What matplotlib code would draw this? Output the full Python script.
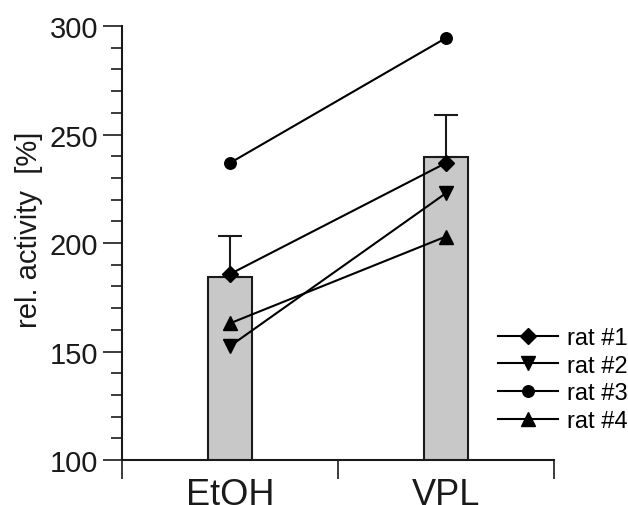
import matplotlib
matplotlib.use("Agg")
import matplotlib.pyplot as plt
from matplotlib.lines import Line2D
from matplotlib.ticker import MultipleLocator

plt.rcParams['font.family'] = ['Liberation Sans', 'DejaVu Sans']

categories = ["EtOH", "VPL"]
bar_means = [184.5, 239.5]
bar_err_upper = [18.7, 19.5]

rat_labels = ["rat #1", "rat #2", "rat #3", "rat #4"]
rat1 = [185.7, 236.9]
rat2 = [152.5, 223.0]
rat3 = [236.9, 294.5]
rat4 = [163.0, 203.0]
rat_markers = ["D", "v", "o", "^"]
rat_msizes = [8, 9.5, 8.3, 9.5]

fig = plt.figure(figsize=(6.28, 5.06), dpi=100)
ax = fig.add_axes([0.1943, 0.0889, 0.6879, 0.8577])

xpos = [0.5, 1.5]
ax.bar(xpos, bar_means, width=0.204, color="#c8c8c8", edgecolor="#1a1a1a",
       linewidth=1.5, zorder=1)
ax.errorbar(xpos, bar_means, yerr=[[0, 0], bar_err_upper], fmt="none",
            ecolor="#1a1a1a", elinewidth=1.5, capsize=8.3, capthick=1.5, zorder=2)

for vals, m, ms in zip([rat1, rat2, rat3, rat4], rat_markers, rat_msizes):
    ax.plot(xpos, vals, color="black", linewidth=1.5, marker=m, markersize=ms,
            zorder=3)

ax.set_xlim(0, 2)
ax.set_ylim(100, 300)

for s in ["top", "right"]:
    ax.spines[s].set_visible(False)
for s in ["left", "bottom"]:
    ax.spines[s].set_linewidth(1.5)
    ax.spines[s].set_color("#1a1a1a")

ax.yaxis.set_major_locator(MultipleLocator(50))
ax.yaxis.set_minor_locator(MultipleLocator(10))
ax.tick_params(axis="y", which="major", length=14, width=1.2, labelsize=21,
               pad=3, colors="#1a1a1a")
ax.tick_params(axis="y", which="minor", length=8, width=1.2, colors="#1a1a1a")

ax.set_xticks([0, 1, 2])
ax.set_xticklabels(["", "", ""])
ax.set_xticks(xpos, minor=True)
ax.set_xticklabels(categories, minor=True)
ax.tick_params(axis="x", which="major", length=14, width=1.2, colors="#1a1a1a")
ax.tick_params(axis="x", which="minor", length=0, labelsize=26, pad=12,
               colors="#1a1a1a")

ax.set_ylabel("rel. activity  [%]", fontsize=21, color="#1a1a1a")
ax.yaxis.set_label_coords(-0.183, 0.532)

handles = [Line2D([0], [0], color="black", lw=1.5, marker=m, markersize=ms)
           for m, ms in zip(rat_markers, rat_msizes)]
leg = fig.legend(handles, rat_labels, loc="center left",
                 bbox_to_anchor=(0.793, 0.248), frameon=False, fontsize=17,
                 handlelength=2.54, labelspacing=0.24, handletextpad=0.4,
                 borderaxespad=0, borderpad=0)

fig.savefig("out.png", dpi=100)
